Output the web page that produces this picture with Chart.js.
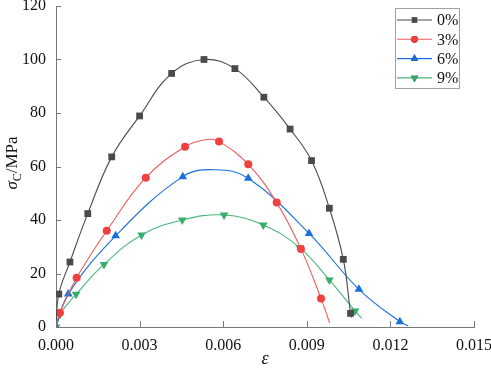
<!DOCTYPE html>
<html>
<head>
<meta charset="utf-8">
<script src="https://cdn.jsdelivr.net/npm/chart.js@4.4.1/dist/chart.umd.min.js"></script>
<style>
    html, body { margin: 0; padding: 0; background: #fff; }
    #wrap { width: 491px; height: 370px; position: relative; }
</style>
</head>
<body>
<div id="wrap"><canvas id="stressChart"></canvas></div>
<script>
// Series labels (content of fibre)
const seriesLabels = ['0%', '3%', '6%', '9%'];

// Strain / stress values
const strain0 = [0, 0.0001, 0.0005, 0.00114, 0.0020, 0.0030, 0.00415, 0.00531, 0.00642, 0.00746, 0.0084, 0.00917, 0.00981, 0.01031, 0.01057, 0.0106];
const stress0 = [0, 12.3, 24.3, 42.4, 63.6, 78.9, 94.8, 100.0, 96.6, 85.9, 74.0, 62.2, 44.4, 25.3, 5.1, 3.5];
const markers0 = [0, 1, 1, 1, 1, 1, 1, 1, 1, 1, 1, 1, 1, 1, 1, 0];

const strain3 = [0, 0.00014, 0.00074, 0.00182, 0.00322, 0.00463, 0.0054, 0.00585, 0.0069, 0.00792, 0.00879, 0.00951, 0.00982];
const stress3 = [0, 5.3, 18.4, 36.0, 55.8, 67.4, 70.1, 69.3, 60.8, 46.5, 29.2, 10.7, 1.5];
const markers3 = [0, 1, 1, 1, 1, 1, 0, 1, 1, 1, 1, 1, 0];

const strain6 = [0, 0.00044, 0.00214, 0.00455, 0.0057, 0.0069, 0.00908, 0.01087, 0.01234, 0.01264];
const stress6 = [0, 12.3, 34.1, 56.2, 58.8, 55.6, 35.0, 14.1, 2.0, 0.4];
const markers6 = [1, 1, 1, 1, 0, 1, 1, 1, 1, 0];

const strain9 = [0, 0.00014, 0.00072, 0.00172, 0.00307, 0.00453, 0.00603, 0.00744, 0.00875, 0.00981, 0.01073, 0.01097];
const stress9 = [0, 4.7, 12.2, 23.4, 34.4, 40.0, 41.9, 38.1, 29.6, 17.6, 6.0, 3.3];
const markers9 = [1, 1, 1, 1, 1, 1, 1, 1, 1, 1, 1, 0];

// Axis ticks
const xTicks = [0, 0.003, 0.006, 0.009, 0.012, 0.015];
const yTicks = [0, 20, 40, 60, 80, 100, 120];

const colors = ['#4a4a4a', '#f14040', '#1a6fdf', '#37ad6b'];
const lineColors = ['#4a4a4a', '#f35a5a', '#1a6fdf', '#4bb67a'];
const shapes = ['rect', 'circle', 'triangle', 'triangle'];
const rotations = [0, 0, 0, 180];
const radii = [4.8, 4, 5, 5];
const serif = "'Liberation Serif', 'Times New Roman', serif";

Chart.defaults.font.family = serif;

function createDataset(i, xs, ys, marks) {
    return {
        label: seriesLabels[i],
        data: xs.map((x, k) => ({ x: x, y: ys[k] })),
        borderColor: lineColors[i],
        backgroundColor: colors[i],
        borderWidth: 1.1,
        pointStyle: shapes[i],
        rotation: rotations[i],
        pointRadius: marks.map(m => m ? radii[i] : 0),
        pointBorderWidth: 0,
        tension: 0.4,
        fill: false
    };
}

const datasets = [
    createDataset(0, strain0, stress0, markers0),
    createDataset(1, strain3, stress3, markers3),
    createDataset(2, strain6, stress6, markers6),
    createDataset(3, strain9, stress9, markers9)
];

// inward ticks, axis titles and the boxed legend
const decorations = {
    id: 'decorations',
    afterDraw(chart) {
        const c = chart.ctx;
        const xs = chart.scales.x, ys = chart.scales.y;
        const area = chart.chartArea;
        c.save();
        c.strokeStyle = '#777';
        c.lineWidth = 1;
        xTicks.forEach(v => {
            const px = Math.round(xs.getPixelForValue(v)) + 0.5;
            c.beginPath();
            c.moveTo(px, area.bottom);
            c.lineTo(px, area.bottom - 6);
            c.stroke();
        });
        yTicks.forEach(v => {
            const py = Math.round(ys.getPixelForValue(v)) + 0.5;
            c.beginPath();
            c.moveTo(area.left, py);
            c.lineTo(area.left + 5, py);
            c.stroke();
        });

        // x title
        c.fillStyle = '#111';
        c.font = 'italic 18px ' + serif;
        c.textAlign = 'center';
        c.textBaseline = 'alphabetic';
        c.fillText('ε', (area.left + area.right) / 2, 364);

        // y title, rotated
        c.translate(17, 163);
        c.rotate(-Math.PI / 2);
        c.textAlign = 'left';
        const parts = [
            { t: 'σ', f: 'italic 17px ' + serif, dy: 0 },
            { t: 'C', f: '12px ' + serif, dy: 4 },
            { t: '/MPa', f: '17px ' + serif, dy: 0 }
        ];
        let w = 0;
        parts.forEach(p => { c.font = p.f; w += c.measureText(p.t).width; });
        let cx = -w / 2;
        parts.forEach(p => {
            c.font = p.f;
            c.fillText(p.t, cx, p.dy);
            cx += c.measureText(p.t).width;
        });
        c.restore();

        // legend box
        c.save();
        const bx = 395, by = 8, bw = 64, bh = 80;
        c.fillStyle = '#fff';
        c.fillRect(bx, by, bw, bh);
        c.strokeStyle = '#a0a0a0';
        c.lineWidth = 1;
        c.strokeRect(bx + 0.5, by + 0.5, bw, bh);
        c.font = '16px ' + serif;
        c.textBaseline = 'middle';
        c.textAlign = 'left';
        seriesLabels.forEach((lab, i) => {
            const ly = 20 + i * 19.3;
            c.strokeStyle = lineColors[i];
            c.lineWidth = 1.1;
            c.beginPath();
            c.moveTo(397, ly);
            c.lineTo(432, ly);
            c.stroke();
            Chart.helpers.drawPoint(c, {
                pointStyle: shapes[i],
                rotation: rotations[i],
                radius: radii[i] * 0.85,
                borderWidth: 0
            }, 414.5, ly);
            c.fillStyle = colors[i];
            c.fill();
            c.fillStyle = '#111';
            c.fillText(lab, 437, ly + 1);
        });
        c.restore();
    }
};

const ctx = document.getElementById('stressChart').getContext('2d');
const chart = new Chart(ctx, {
    type: 'line',
    data: { datasets: datasets },
    options: {
        responsive: true,
        maintainAspectRatio: false,
        animation: false,
        layout: { padding: { top: 6, right: 17, left: 0, bottom: 0 } },
        scales: {
            x: {
                type: 'linear',
                min: 0,
                max: 0.015,
                afterBuildTicks: s => { s.ticks = xTicks.map(v => ({ value: v })); },
                afterFit: s => { s.height = 43; s.paddingLeft = 0; s.paddingRight = 0; },
                grid: { display: false, drawTicks: false },
                border: { display: true, color: '#777', width: 1 },
                ticks: {
                    padding: 9,
                    color: '#111',
                    font: { family: serif, size: 16 },
                    maxRotation: 0,
                    callback: v => v.toFixed(3)
                }
            },
            y: {
                min: 0,
                max: 120,
                afterBuildTicks: s => { s.ticks = yTicks.map(v => ({ value: v })); },
                afterFit: s => { s.width = 56; s.paddingTop = 0; s.paddingBottom = 0; },
                grid: { display: false, drawTicks: false },
                border: { display: true, color: '#777', width: 1 },
                ticks: {
                    padding: 10,
                    color: '#111',
                    font: { family: serif, size: 16 }
                }
            }
        },
        plugins: {
            legend: { display: false },
            tooltip: { enabled: false }
        }
    },
    plugins: [decorations]
});
</script>
</body>
</html>
